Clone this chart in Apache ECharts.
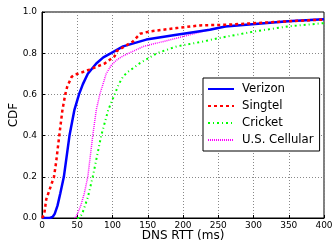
<!DOCTYPE html>
<html>
<head>
<meta charset="utf-8">
<script src="https://cdn.jsdelivr.net/npm/echarts@6/dist/echarts.min.js"></script>
<style>
 html,body{margin:0;padding:0;background:#fff;}
 #chart{width:333px;height:244px;}
</style>
</head>
<body>
<div id="chart"></div>
<script>
// DNS RTT CDF
var seriesNames = ['Verizon', 'Singtel', 'Cricket', 'U.S. Cellular'];

var verizonMs  = [0, 11, 15, 18, 22, 26, 31, 39, 46, 52.5, 58, 65, 77, 87, 98, 115, 148, 191, 238, 260, 349, 400];
var verizonCdf = [0, 0, 0.005, 0.02, 0.06, 0.12, 0.2, 0.4, 0.525, 0.6, 0.65, 0.7, 0.75, 0.78, 0.8, 0.833, 0.866, 0.89, 0.914, 0.93, 0.955, 0.965];

var singtelMs  = [0, 3, 6, 10, 14, 17, 20, 24.5, 29, 33, 36, 42, 47, 51, 67, 89, 103, 106, 129, 139, 153, 191, 224, 260, 349, 400];
var singtelCdf = [0, 0.015, 0.09, 0.13, 0.17, 0.2, 0.27, 0.4, 0.525, 0.6, 0.64, 0.685, 0.697, 0.7, 0.72, 0.75, 0.785, 0.81, 0.857, 0.894, 0.906, 0.922, 0.935, 0.938, 0.955, 0.963];

var cricketMs  = [50, 53, 57, 60, 65, 72, 84, 94, 103, 109, 115, 122, 129.5, 139, 163, 191, 229, 250, 302, 349, 400];
var cricketCdf = [0, 0, 0.02, 0.05, 0.1, 0.2, 0.4, 0.525, 0.6, 0.65, 0.687, 0.71, 0.728, 0.752, 0.8, 0.833, 0.857, 0.873, 0.906, 0.93, 0.946];

var cellularMs  = [46, 49, 55, 60, 65, 72, 77, 82, 91, 98, 105, 115, 144, 191, 238, 260, 349, 400];
var cellularCdf = [0, 0.01, 0.06, 0.12, 0.2, 0.4, 0.525, 0.6, 0.7, 0.74, 0.765, 0.787, 0.833, 0.873, 0.914, 0.93, 0.957, 0.967];

function pairs(xs, ys){
  var out = [];
  for(var i=0;i<xs.length;i++){
    out.push([xs[i], ys[i]]);
  }
  return out;
}

var font = 'DejaVu Sans';
var chart = echarts.init(document.getElementById('chart'));

chart.setOption({
  animation: false,
  grid: {left: 42, right: 9, top: 12, bottom: 26, containLabel: false,
    outerBoundsMode: 'none',
    show: true, borderColor: '#000', borderWidth: 1},
  legend: {
    orient: 'vertical',
    left: 203, top: 78,
    padding: [5, 6, 5, 4],
    itemWidth: 26, itemHeight: 12, itemGap: 5,
    borderColor: '#000', borderWidth: 1, borderRadius: 0,
    backgroundColor: '#fff',
    itemStyle: {opacity: 0},
    textStyle: {fontFamily: font, fontSize: 11.7, color: '#000', padding: [0, 0, 0, 3]},
    data: seriesNames
  },
  xAxis: {
    type: 'value', min: 0, max: 400, interval: 50,
    name: 'DNS RTT (ms)', nameLocation: 'middle', nameGap: 12, nameMoveOverlap: false,
    nameTextStyle: {fontFamily: font, fontSize: 12, color: '#000'},
    axisLine: {lineStyle: {color: '#000', width: 1}},
    axisTick: {inside: true, length: 3, lineStyle: {color: '#000'}},
    axisLabel: {fontFamily: font, fontSize: 9, color: '#000', margin: 3},
    splitLine: {lineStyle: {color: '#888', type: [1, 2], width: 1}}
  },
  yAxis: {
    type: 'value', min: 0, max: 1, interval: 0.2,
    name: 'CDF', nameLocation: 'middle', nameGap: 22, nameRotate: 90, nameMoveOverlap: false,
    nameTextStyle: {fontFamily: font, fontSize: 12, color: '#000'},
    axisLine: {show: true, lineStyle: {color: '#000', width: 1}},
    axisTick: {show: true, inside: true, length: 3, lineStyle: {color: '#000'}},
    axisLabel: {fontFamily: font, fontSize: 9, color: '#000', margin: 5,
      formatter: function(v){ return v.toFixed(1); }},
    splitLine: {lineStyle: {color: '#888', type: [1, 2], width: 1}}
  },
  series: [
    {
      name: 'Verizon', type: 'line', symbol: 'none', z: 4,
      color: '#0000ff',
      lineStyle: {color: '#0000ff', width: 2.5, type: 'solid'},
      data: pairs(verizonMs, verizonCdf)
    },
    {
      name: 'Singtel', type: 'line', symbol: 'none', z: 5,
      color: '#ff0000',
      lineStyle: {color: '#ff0000', width: 2.5, type: [3, 3]},
      data: pairs(singtelMs, singtelCdf)
    },
    {
      name: 'Cricket', type: 'line', symbol: 'none', z: 3,
      color: '#00ff00',
      lineStyle: {color: '#00ff00', width: 2, type: [2, 3, 1, 3]},
      data: pairs(cricketMs, cricketCdf)
    },
    {
      name: 'U.S. Cellular', type: 'line', symbol: 'none', z: 3,
      color: '#ff00ff',
      lineStyle: {color: '#ff00ff', width: 1.5, type: [1, 1]},
      data: pairs(cellularMs, cellularCdf)
    }
  ]
});
</script>
</body>
</html>
